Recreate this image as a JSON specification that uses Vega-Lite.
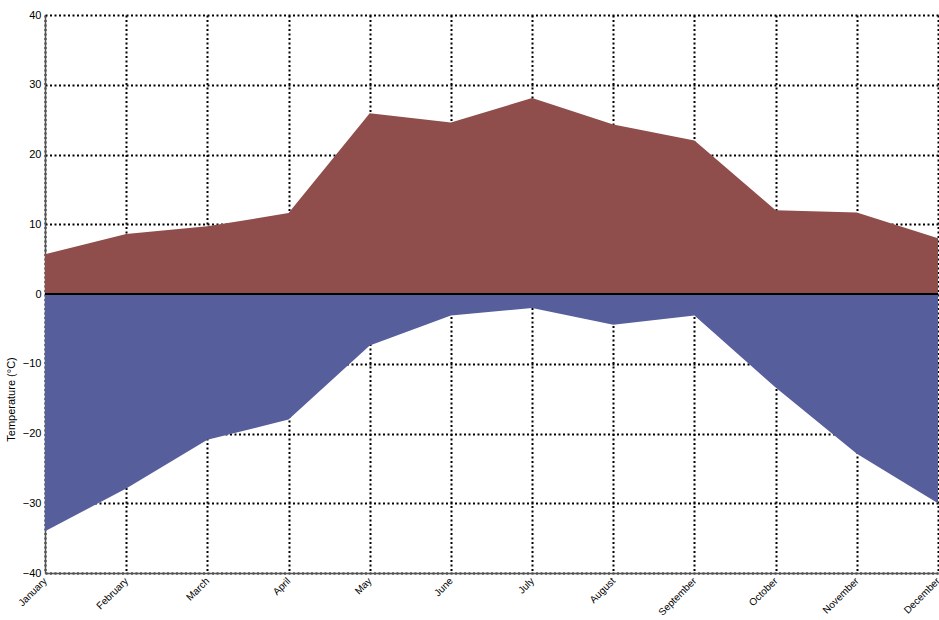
{
  "$schema": "https://vega.github.io/schema/vega-lite/v6.json",
  "autosize": "none",
  "width": 893,
  "height": 558,
  "padding": {"left": 45, "top": 15, "right": 1, "bottom": 47},
  "background": "white",
  "config": {
    "view": {"stroke": null},
    "font": "Liberation Sans",
    "axis": {
      "labelFont": "Liberation Sans",
      "titleFont": "Liberation Sans",
      "labelFontSize": 11,
      "labelColor": "#000",
      "titleColor": "#000",
      "titleFontWeight": "normal",
      "titleFontSize": 11,
      "domainColor": "#555",
      "domainWidth": 1.5,
      "ticks": false,
      "grid": true,
      "gridColor": "#000",
      "gridOpacity": 1,
      "gridWidth": 2,
      "gridDash": [2, 2.5],
      "zindex": 1
    }
  },
  "data": {
    "values": [
      {"month": "January", "high": 5.7, "low": -34.0},
      {"month": "February", "high": 8.6, "low": -27.9},
      {"month": "March", "high": 9.7, "low": -20.9},
      {"month": "April", "high": 11.6, "low": -18.0},
      {"month": "May", "high": 25.9, "low": -7.4},
      {"month": "June", "high": 24.6, "low": -3.1},
      {"month": "July", "high": 28.1, "low": -2.0},
      {"month": "August", "high": 24.3, "low": -4.4},
      {"month": "September", "high": 22.0, "low": -3.1},
      {"month": "October", "high": 12.0, "low": -13.4},
      {"month": "November", "high": 11.7, "low": -22.9},
      {"month": "December", "high": 8.0, "low": -30.0}
    ]
  },
  "encoding": {
    "x": {
      "field": "month",
      "type": "ordinal",
      "sort": null,
      "scale": {"type": "point", "padding": 0},
      "axis": {"title": null, "labelAngle": -45, "labelAlign": "right", "labelBaseline": "middle", "labelPadding": 6, "labelDx": -3, "labelFontSize": 10, "labelOverlap": false, "labelBound": false}
    }
  },
  "layer": [
    {
      "mark": {"type": "area", "color": "#8f4e4c", "opacity": 1},
      "encoding": {
        "y": {
          "field": "high",
          "type": "quantitative",
          "scale": {"domain": [-40, 40], "nice": false},
          "axis": {"title": "Temperature (°C)", "values": [-40, -30, -20, -10, 0, 10, 20, 30, 40], "labelOverlap": false, "labelPadding": 4, "titleX": -29, "titleY": 384}
        },
        "y2": {"datum": 0}
      }
    },
    {
      "mark": {"type": "area", "color": "#575e9c", "opacity": 1},
      "encoding": {
        "y": {
          "field": "low",
          "type": "quantitative",
          "axis": {"title": "Temperature (°C)", "values": [-40, -30, -20, -10, 0, 10, 20, 30, 40], "labelOverlap": false, "labelPadding": 4, "titleX": -29, "titleY": 384}
        },
        "y2": {"datum": 0}
      }
    },
    {
      "mark": {"type": "rule", "color": "#000", "strokeWidth": 2},
      "encoding": {"y": {"datum": 0}, "x": {"value": 0}, "x2": {"value": 893}}
    }
  ]
}
